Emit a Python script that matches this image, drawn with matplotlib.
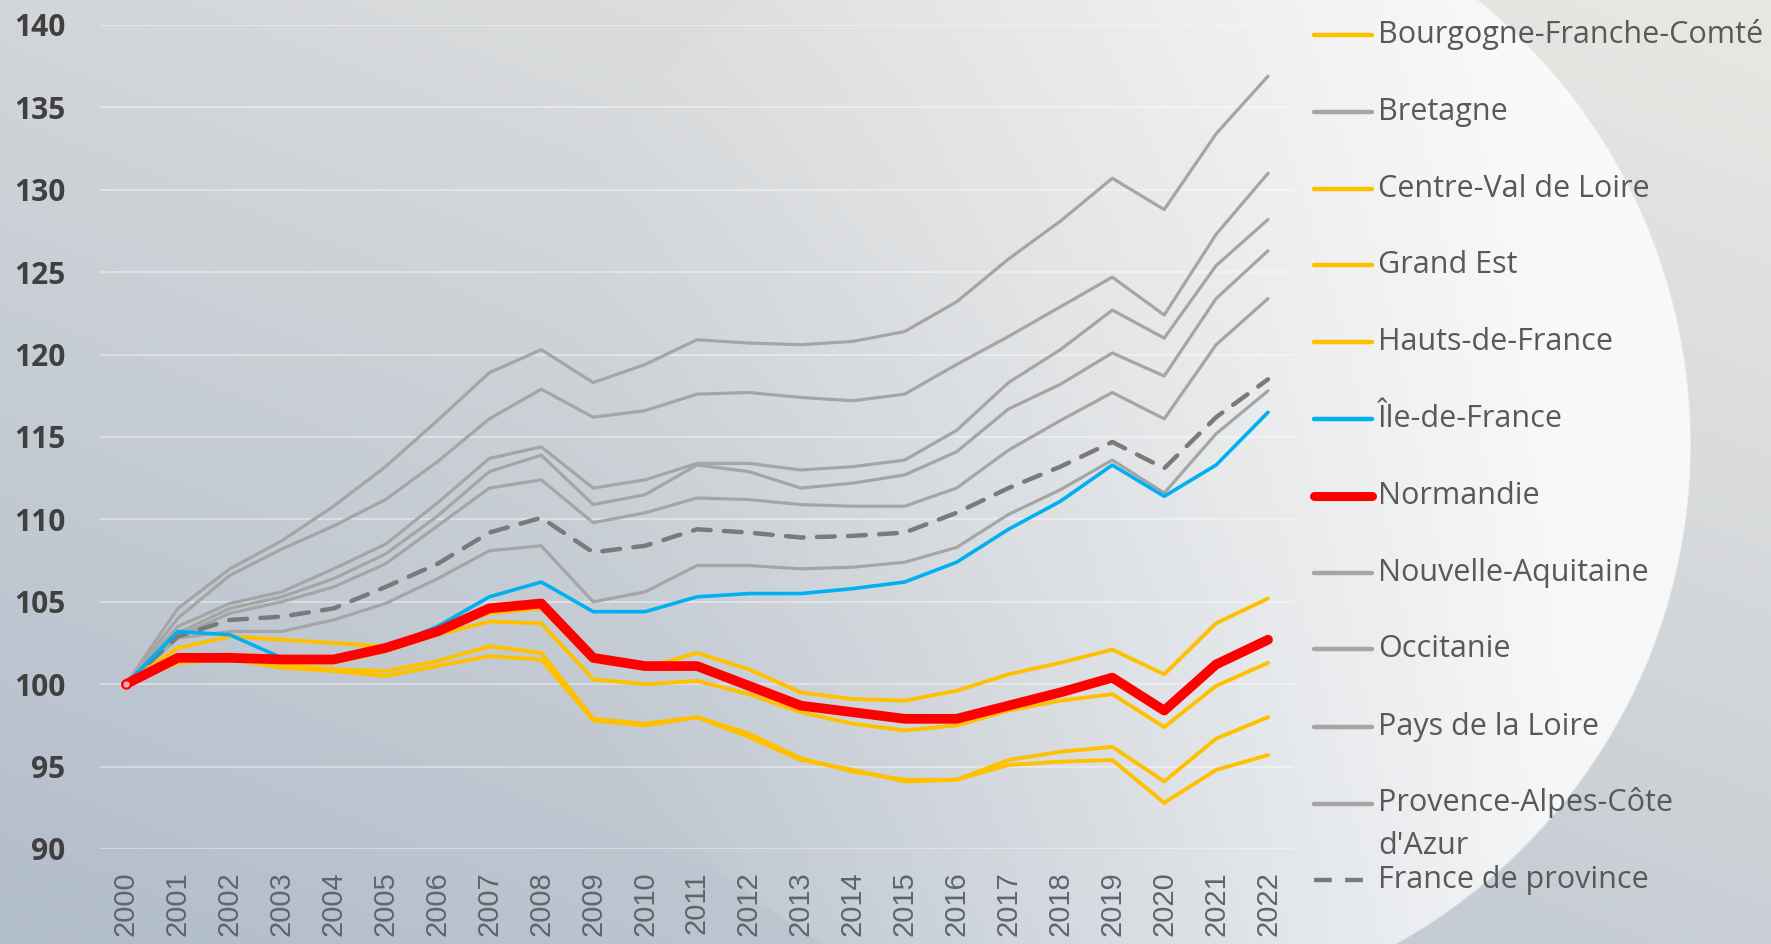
import numpy as np
import matplotlib
matplotlib.use("Agg")
import matplotlib.pyplot as plt
from matplotlib.lines import Line2D

# ---------------- data ----------------
years = [str(y) for y in range(2000, 2023)]

bourgogne_fc = [100, 101.7, 101.8, 101.2, 100.9, 100.8, 101.4, 102.3, 101.9, 97.9, 97.6, 98.0,
                97.0, 95.5, 94.7, 94.2, 94.2, 95.4, 95.9, 96.2, 94.1, 96.7, 98.0]
centre_vdl = [100, 101.5, 101.7, 101.3, 101.3, 102.0, 103.0, 103.8, 103.7, 100.3, 100.0, 100.2,
              99.4, 98.3, 97.6, 97.2, 97.5, 98.4, 99.0, 99.4, 97.4, 99.9, 101.3]
grand_est = [100, 101.3, 101.5, 101.0, 100.8, 100.5, 101.1, 101.7, 101.5, 97.8, 97.5, 98.0,
             96.8, 95.4, 94.8, 94.1, 94.2, 95.1, 95.3, 95.4, 92.8, 94.8, 95.7]
hauts_de_france = [100, 102.2, 102.9, 102.7, 102.5, 102.3, 103.3, 104.3, 104.6, 101.4, 101.0, 101.9,
                   100.9, 99.5, 99.1, 99.0, 99.6, 100.6, 101.3, 102.1, 100.6, 103.7, 105.2]
ile_de_france = [100, 103.2, 103.0, 101.6, 101.5, 102.2, 103.5, 105.3, 106.2, 104.4, 104.4, 105.3,
                 105.5, 105.5, 105.8, 106.2, 107.4, 109.4, 111.1, 113.3, 111.4, 113.3, 116.5]
normandie = [100, 101.6, 101.6, 101.5, 101.5, 102.2, 103.2, 104.6, 104.9, 101.6, 101.1, 101.1,
             99.9, 98.7, 98.3, 97.9, 97.9, 98.7, 99.5, 100.4, 98.4, 101.2, 102.7]
occitanie = [100, 104.6, 107.0, 108.7, 110.8, 113.2, 116.0, 118.9, 120.3, 118.3, 119.4, 120.9,
             120.7, 120.6, 120.8, 121.4, 123.2, 125.8, 128.1, 130.7, 128.8, 133.4, 136.9]
pays_de_la_loire = [100, 104.0, 106.6, 108.2, 109.6, 111.2, 113.5, 116.1, 117.9, 116.2, 116.6, 117.6,
                    117.7, 117.4, 117.2, 117.6, 119.4, 121.1, 122.9, 124.7, 122.4, 127.3, 131.0]
bretagne = [100, 103.5, 104.9, 105.6, 107.0, 108.5, 111.0, 113.7, 114.4, 111.9, 112.4, 113.4,
            113.4, 113.0, 113.2, 113.6, 115.4, 118.3, 120.3, 122.7, 121.0, 125.4, 128.2]
nouvelle_aquitaine = [100, 103.1, 104.6, 105.3, 106.4, 107.9, 110.2, 112.9, 113.9, 110.9, 111.5, 113.3,
                      112.9, 111.9, 112.2, 112.7, 114.1, 116.7, 118.2, 120.1, 118.7, 123.4, 126.3]
auvergne_ra = [100, 102.9, 104.3, 105.0, 105.9, 107.3, 109.6, 111.9, 112.4, 109.8, 110.4, 111.3,
               111.2, 110.9, 110.8, 110.8, 111.9, 114.2, 116.0, 117.7, 116.1, 120.6, 123.4]
paca = [100, 102.8, 103.2, 103.2, 103.9, 104.9, 106.4, 108.1, 108.4, 105.0, 105.6, 107.2,
        107.2, 107.0, 107.1, 107.4, 108.3, 110.3, 111.8, 113.6, 111.6, 115.2, 117.8]
france_province = [100, 102.9, 103.9, 104.1, 104.6, 105.9, 107.3, 109.2, 110.1, 108.0, 108.4, 109.4,
                   109.2, 108.9, 109.0, 109.2, 110.4, 111.9, 113.2, 114.7, 113.1, 116.2, 118.5]

y_ticks = [90, 95, 100, 105, 110, 115, 120, 125, 130, 135, 140]

# ---------------- styles ----------------
GRAY = "#a5a5a5"
YEL = "#ffc000"
BLUE = "#00b0f0"
RED = "#ff0000"
DGRAY = "#7a7a7a"

W, H = 1771, 944
fig = plt.figure(figsize=(W / 100, H / 100), dpi=100)

# background gradient + light ellipse
yy, xx = np.mgrid[0:H, 0:W].astype(float)
t = 0.42 * (xx / W) + 0.58 * (1 - yy / H)
c0 = np.array([178, 189, 203]) / 255
c1 = np.array([234, 232, 228]) / 255
img = c0 + (c1 - c0) * t[..., None]
d = ((xx - 1110) / 581) ** 2 + ((yy - 444) / 575) ** 2
inside = np.clip((1 - d) * 150, 0, 1)
a = np.clip((xx - 560) / (1560 - 560), 0, 1) ** 1.4 * 0.82 * inside
img = img * (1 - a[..., None]) + a[..., None]
axbg = fig.add_axes([0, 0, 1, 1], zorder=-5)
axbg.imshow(img, aspect="auto", extent=(0, W, H, 0))
axbg.set_xlim(0, W)
axbg.set_ylim(H, 0)
axbg.axis("off")

ax = fig.add_axes([100 / W, (H - 849) / H, 1194 / W, 824 / H])
ax.patch.set_alpha(0)
x = np.arange(len(years))

series = [
    ("Occitanie", occitanie, GRAY, 2.3, "-", 2, False),
    ("Pays de la Loire", pays_de_la_loire, GRAY, 2.3, "-", 2, False),
    ("Bretagne", bretagne, GRAY, 2.3, "-", 2, False),
    ("Nouvelle-Aquitaine", nouvelle_aquitaine, GRAY, 2.3, "-", 2, False),
    ("Auvergne-Rhône-Alpes", auvergne_ra, GRAY, 2.3, "-", 2, False),
    ("Provence-Alpes-Côte\nd'Azur", paca, GRAY, 2.3, "-", 2, False),
    ("France de province", france_province, DGRAY, 3.2, "--", 3, False),
    ("Bourgogne-Franche-Comté", bourgogne_fc, YEL, 2.8, "-", 4, False),
    ("Centre-Val de Loire", centre_vdl, YEL, 2.8, "-", 4, False),
    ("Grand Est", grand_est, YEL, 2.8, "-", 4, False),
    ("Hauts-de-France", hauts_de_france, YEL, 2.8, "-", 4, False),
    ("Île-de-France", ile_de_france, BLUE, 2.6, "-", 5, False),
    ("Normandie", normandie, RED, 7.0, "-", 6, True),
]
for name, vals, col, lw, ls, z, mk in series:
    kw = {}
    if ls == "--":
        kw["dashes"] = (4, 3.0)
    if mk:
        kw.update(marker="o", markevery=[0], ms=6, mfc="#e8b0b0", mec=RED, mew=1.5)
    ax.plot(x, vals, color=col, lw=lw, ls=ls, zorder=z, solid_capstyle="round",
            dash_capstyle="round", **kw)

ax.set_xlim(-0.5, len(years) - 0.5)
ax.set_ylim(90, 140)
ax.set_yticks(y_ticks)
ax.set_yticklabels([str(v) for v in y_ticks], fontfamily="Open Sans", fontweight="bold",
                   fontsize=21.5, color="#404040")
ax.set_xticks(x)
ax.set_xticklabels(years, rotation=90, fontfamily="Liberation Sans", fontsize=21, color="#5f656d")
ax.tick_params(axis="y", length=0, pad=25)
ax.tick_params(axis="x", length=0, pad=16)
ax.grid(axis="y", color="white", alpha=0.38, lw=1.5, zorder=0)
for s in ax.spines.values():
    s.set_visible(False)

# ---------------- legend (manual, right side) ----------------
legend_order = [
    ("Bourgogne-Franche-Comté", YEL, 3.2, "-"),
    ("Bretagne", GRAY, 3.2, "-"),
    ("Centre-Val de Loire", YEL, 3.2, "-"),
    ("Grand Est", YEL, 3.2, "-"),
    ("Hauts-de-France", YEL, 3.2, "-"),
    ("Île-de-France", BLUE, 3.2, "-"),
    ("Normandie", RED, 6.5, "-"),
    ("Nouvelle-Aquitaine", GRAY, 3.2, "-"),
    ("Occitanie", GRAY, 3.2, "-"),
    ("Pays de la Loire", GRAY, 3.2, "-"),
    ("Provence-Alpes-Côte\nd'Azur", GRAY, 3.2, "-"),
    ("France de province", DGRAY, 3.2, "--"),
]
leg_y = [35, 112, 189, 265, 342, 419, 496, 573, 649, 727, 804, 880]
for (lab, col, lw, ls), yp in zip(legend_order, leg_y):
    yf = 1 - yp / H
    kw = {"dashes": (4, 3.0)} if ls == "--" else {}
    fig.add_artist(Line2D([1314 / W, 1372 / W], [yf, yf], color=col, lw=lw,
                          solid_capstyle="round", transform=fig.transFigure, **kw))
    if "\n" in lab:
        fig.text(1378 / W, 1 - (yp - 17) / H, lab, fontfamily="Open Sans", fontsize=22,
                 color="#595959", va="top", ha="left", linespacing=1.55)
    else:
        fig.text(1378 / W, yf, lab, fontfamily="Open Sans", fontsize=22,
                 color="#595959", va="center", ha="left")

fig.savefig("out.png", dpi=100)
